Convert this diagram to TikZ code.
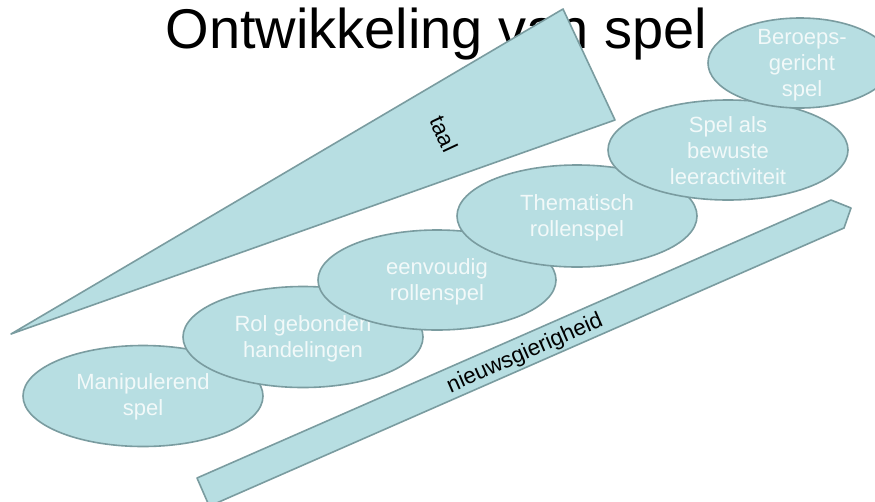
\documentclass[tikz,border=0pt]{standalone}
\usepackage{fontspec}
\setmainfont{Liberation Sans}
\usetikzlibrary{shapes.geometric}
\definecolor{shapefill}{RGB}{183,222,226}
\definecolor{shapeline}{RGB}{122,156,160}
\definecolor{lighttext}{RGB}{242,249,249}
\tikzset{
  shapestyle/.style={draw=shapeline, line width=1.6pt, fill=shapefill, line join=round},
  stage/.style={ellipse, shapestyle, inner sep=0pt},
  stagetext/.style={text=lighttext, align=center, font=\fontsize{22}{26}\selectfont},
  darktext/.style={text=black, font=\fontsize{22.5}{25}\selectfont},
}
\begin{document}
\begin{tikzpicture}[x=1pt,y=-1pt]
\useasboundingbox (0,0) rectangle (875,501);
\clip (0,0) rectangle (875,501);
\fill[white] (0,0) rectangle (875,501);
% title
\node[anchor=base, inner sep=0pt, font=\fontsize{56}{60}\selectfont] (title) at (436.5,48) {Ontwikkeling van spel};
% wedge "taal"
\path[shapestyle] (11,334) -- (563,9) -- (615,120) -- cycle;
\node[darktext, rotate=-65] (taal) at (444,134) {taal};
% stages
\node[stage, minimum width=240pt, minimum height=101pt] (e1) at (143,396) {};
\node[stagetext] (t1) at (143,397) {Manipulerend\\spel};
\node[stage, minimum width=240pt, minimum height=101pt] (e2) at (303,337) {};
\node[stagetext] (t2) at (303,339) {Rol gebonden\\handelingen};
\node[stage, minimum width=238pt, minimum height=100pt] (e3) at (437,280) {};
\node[stagetext] (t3) at (437,282) {eenvoudig\\rollenspel};
\node[stage, minimum width=240pt, minimum height=102pt] (e4) at (577,216) {};
\node[stagetext] (t4) at (577,218) {Thematisch\\rollenspel};
\node[stage, minimum width=240pt, minimum height=100pt] (e5) at (728,150) {};
\node[stagetext] (t5) at (728,151) {Spel als\\bewuste\\leeractiviteit};
\node[stage, minimum width=184pt, minimum height=90pt] (e6) at (800,63) {};
\node[stagetext] (t6) at (802,65) {Beroeps-\\gericht\\spel};
% arrow bar "nieuwsgierigheid"
\path[shapestyle] (197,478) -- (831,200) -- (851,208) -- (844,228) -- (209.3,506.2) -- cycle;
\node[darktext, rotate=23.7] (nieuws) at (525,354) {nieuwsgierigheid};
\end{tikzpicture}
\end{document}
